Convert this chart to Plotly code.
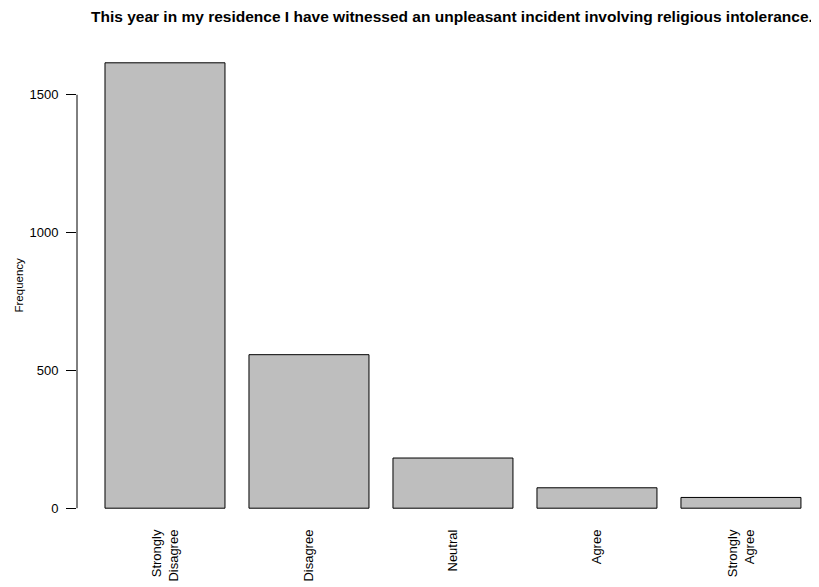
import plotly.graph_objects as go

categories = ["Strongly<br>Disagree", "Disagree", "Neutral", "Agree", "Strongly<br>Agree"]
frequencies = [1616, 557, 182, 74, 39]
y_ticks = [0, 500, 1000, 1500]
title_text = "This year in my residence I have witnessed an unpleasant incident involving religious intolerance."
y_title = "Frequency"

FONT = "Liberation Sans, Arial, Helvetica, sans-serif"

ymax = max(frequencies)
fig = go.Figure()
fig.add_trace(go.Bar(
    x=categories, y=frequencies,
    marker=dict(color="#BEBEBE", line=dict(color="black", width=1)),
    hoverinfo="x+y",
))

fig.update_layout(
    width=811, height=579,
    margin=dict(l=69, r=0, t=37, b=61),
    paper_bgcolor="white", plot_bgcolor="white",
    font=dict(family=FONT, size=13, color="black"),
    bargap=0.1667,
    showlegend=False,
    xaxis=dict(
        type="category", range=[-0.611, 4.542],
        showline=False, showgrid=False, zeroline=False, ticks="",
        tickangle=-90, tickfont=dict(size=13, family=FONT),
        fixedrange=True,
    ),
    yaxis=dict(
        range=[-0.04 * ymax, 1.04 * ymax],
        tickvals=y_ticks, ticktext=[str(v) for v in y_ticks],
        ticks="outside", ticklen=10, tickwidth=1, tickcolor="black",
        ticklabelstandoff=5,
        showline=False, showgrid=False, zeroline=False,
        tickfont=dict(size=13, family=FONT),
        fixedrange=True,
    ),
    annotations=[
        dict(text="<b>" + title_text + "</b>", xref="paper", yref="paper",
             x=0.5, y=1, xanchor="center", yanchor="middle", yshift=29,
             xshift=4, showarrow=False,
             font=dict(size=15.5, family=FONT, color="black")),
        dict(text=y_title, xref="paper", yref="paper", x=0, y=0.5,
             xanchor="center", yanchor="middle", xshift=-59, textangle=-90,
             showarrow=False, font=dict(size=11.5, family=FONT, color="black")),
    ],
    shapes=[
        dict(type="line", xref="paper", yref="y", x0=0, x1=0,
             y0=min(y_ticks), y1=max(y_ticks), line=dict(color="black", width=1)),
    ],
)

fig.write_html("out.html")
